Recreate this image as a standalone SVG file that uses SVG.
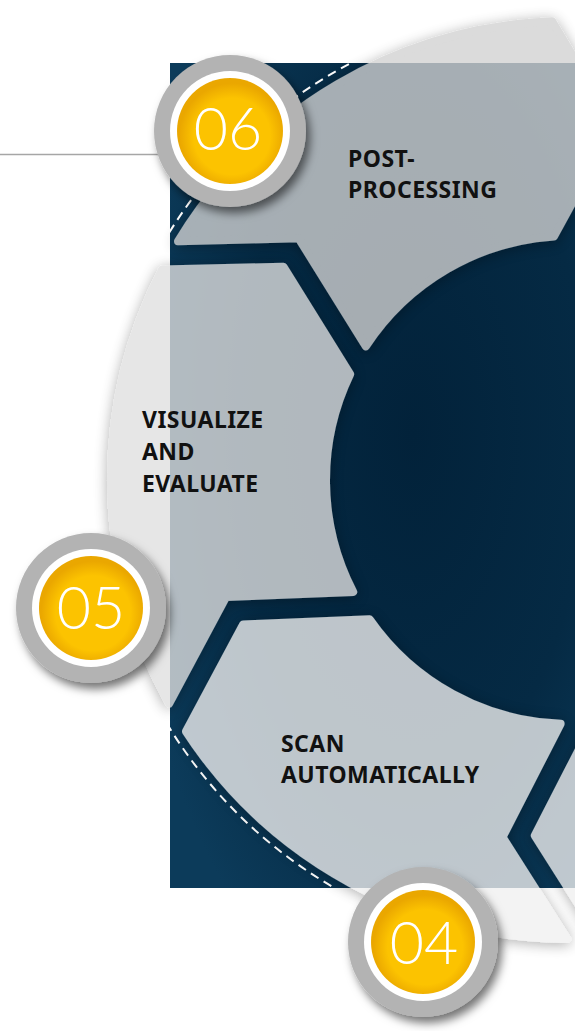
<svg xmlns="http://www.w3.org/2000/svg" xmlns:xlink="http://www.w3.org/1999/xlink" width="575" height="1031" viewBox="0 0 575 1031">
  <style>
    .lbl { font-family: "Noto Sans", "Liberation Sans", sans-serif; font-weight: 700; font-size: 23px; letter-spacing: 0.45px; fill: #111111; }
    .num { font-family: Lato, "Open Sans", "Liberation Sans", sans-serif; font-weight: 300; font-size: 59px; fill: #ffffff; text-anchor: middle; }
    .ring { fill: #b3b3b3; }
    .inner { fill: #ffffff; }
    .core { fill: url(#gold); }
    .segwrap { opacity: 0.79; filter: url(#segShadow); }
    .seg { stroke-width: 8; stroke-linejoin: round; }
  </style>
  <defs>
    <radialGradient id="navy" cx="0.6" cy="0.45" r="0.72">
      <stop offset="0" stop-color="#02223a"/>
      <stop offset="0.6" stop-color="#052a44"/>
      <stop offset="1" stop-color="#0c3b5a"/>
    </radialGradient>
    <radialGradient id="gold" cx="0.52" cy="0.55" r="0.5">
      <stop offset="0.72" stop-color="#fcc300"/>
      <stop offset="1" stop-color="#eaa700"/>
    </radialGradient>
    <filter id="segShadow" x="-20%" y="-20%" width="140%" height="140%">
      <feDropShadow dx="0" dy="2" stdDeviation="7" flood-color="#000" flood-opacity="0.4"/>
    </filter>
    <filter id="badgeShadow" x="-30%" y="-30%" width="160%" height="160%">
      <feDropShadow dx="4" dy="6" stdDeviation="5" flood-color="#000" flood-opacity="0.55"/>
    </filter>
    <clipPath id="rectClip">
      <rect x="170" y="63" width="405" height="825"/>
    </clipPath>
    <path id="segShape" d="M 458.62 18.80 A 459 459 0 0 1 237.90 392.54 L 132.94 331.67 L 132.16 205.11 A 244 244 0 0 0 243.34 17.90 L 354.49 79.88 Z"/>
  </defs>

  <rect x="0" y="0" width="575" height="1031" fill="#ffffff"/>
  <rect id="panel" x="170" y="63" width="405" height="825" fill="url(#navy)"/>

  <g id="connectors">
    <line x1="0" y1="154.5" x2="165" y2="154.5" stroke="#a6a6a6" stroke-width="1.5"/>
    <circle cx="570" cy="480" r="471" fill="none" stroke="#ffffff" stroke-width="2" stroke-dasharray="9 6" clip-path="url(#rectClip)"/>
  </g>

  <g id="step-03">
    <g class="segwrap"><use xlink:href="#segShape" class="seg" transform="translate(570 480) rotate(27.5)" fill="#f0f0f0" stroke="#f0f0f0"/></g>
  </g>

  <g id="step-04">
    <g class="segwrap"><use xlink:href="#segShape" class="seg" transform="translate(570 480) rotate(88)" fill="#f0f0f0" stroke="#f0f0f0"/></g>
    <text class="lbl" x="281" y="752">SCAN</text>
    <text class="lbl" x="281" y="783">AUTOMATICALLY</text>
    <g filter="url(#badgeShadow)">
      <circle class="ring" cx="423" cy="942" r="75"/>
      <circle class="inner" cx="423" cy="942" r="59"/>
      <circle class="core" cx="423" cy="942" r="52"/>
    </g>
    <text class="num" x="424" y="964">04</text>
  </g>

  <g id="step-05">
    <g class="segwrap"><use xlink:href="#segShape" class="seg" transform="translate(570 480) rotate(148.5)" fill="#e0e0e0" stroke="#e0e0e0"/></g>
    <text class="lbl" x="142" y="428">VISUALIZE</text>
    <text class="lbl" x="142" y="460">AND</text>
    <text class="lbl" x="142" y="492">EVALUATE</text>
    <g filter="url(#badgeShadow)">
      <circle class="ring" cx="91" cy="608" r="75"/>
      <circle class="inner" cx="91" cy="608" r="59"/>
      <circle class="core" cx="91" cy="608" r="52"/>
    </g>
    <text class="num" x="91" y="629">05</text>
  </g>

  <g id="step-06">
    <g class="segwrap"><use xlink:href="#segShape" class="seg" transform="translate(570 480) rotate(209)" fill="#d2d2d2" stroke="#d2d2d2"/></g>
    <text class="lbl" x="348" y="167">POST-</text>
    <text class="lbl" x="348" y="198">PROCESSING</text>
    <g filter="url(#badgeShadow)">
      <circle class="ring" cx="230" cy="131" r="76"/>
      <circle class="inner" cx="230" cy="131" r="60"/>
      <circle class="core" cx="230" cy="131" r="53"/>
    </g>
    <text class="num" x="228" y="150">06</text>
  </g>
</svg>
